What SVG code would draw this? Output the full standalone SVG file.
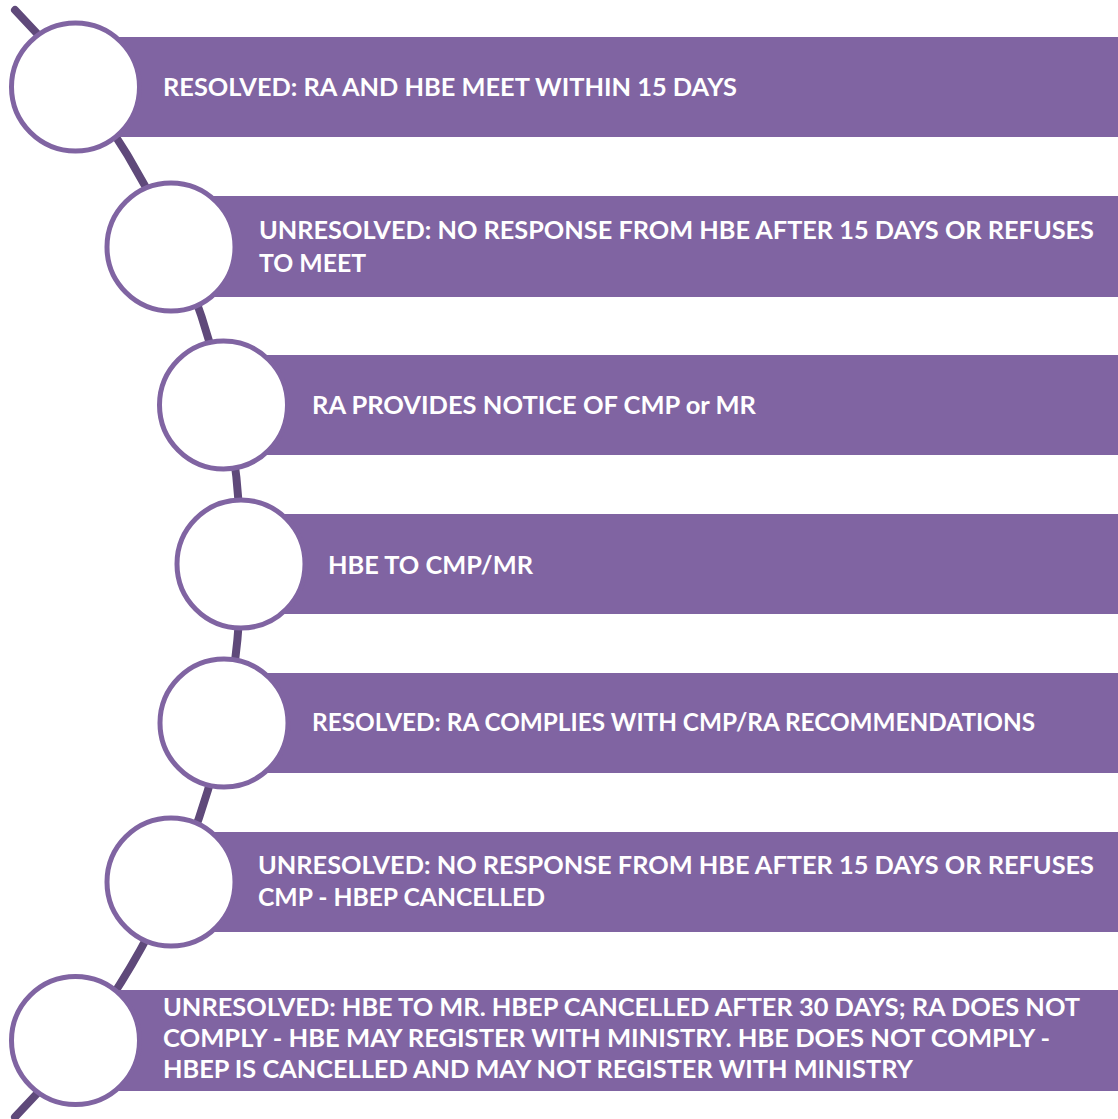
<svg xmlns="http://www.w3.org/2000/svg" width="1118" height="1119" viewBox="0 0 1118 1119">
  <style>
    .bar { fill: #8064A2; }
    .ring { fill: #FFFFFF; stroke: #8064A2; stroke-width: 5; }
    .lbl { fill: #FFFFFF; font-family: "Lato", "Open Sans", "Liberation Sans", sans-serif; font-weight: 700; font-size: 25px; }
    .spine { fill: none; stroke: #5F497A; stroke-width: 8; stroke-linecap: round; }
  </style>
  <rect x="0" y="0" width="1118" height="1119" fill="#FFFFFF"/>
  <g id="connectors">
    <path class="spine" d="M 15 10 A 790.8 790.8 0 0 1 15 1117"/>
  </g>
  <g id="node1">
    <rect class="bar" x="75" y="37" width="1043" height="100"/>
    <circle class="ring" cx="75.5" cy="87" r="64"/>
    <text class="lbl" x="163" y="96" textLength="574" lengthAdjust="spacingAndGlyphs">RESOLVED: RA AND HBE MEET WITHIN 15 DAYS</text>
  </g>
  <g id="node2">
    <rect class="bar" x="171" y="196" width="947" height="101"/>
    <circle class="ring" cx="171" cy="247" r="64"/>
    <text class="lbl" x="259" y="239" textLength="835" lengthAdjust="spacingAndGlyphs">UNRESOLVED: NO RESPONSE FROM HBE AFTER 15 DAYS OR REFUSES</text>
    <text class="lbl" x="259" y="272" textLength="107" lengthAdjust="spacingAndGlyphs">TO MEET</text>
  </g>
  <g id="node3">
    <rect class="bar" x="223" y="355" width="895" height="100"/>
    <circle class="ring" cx="223.5" cy="405" r="64"/>
    <text class="lbl" x="312" y="414" textLength="444" lengthAdjust="spacingAndGlyphs">RA PROVIDES NOTICE OF CMP or MR</text>
  </g>
  <g id="node4">
    <rect class="bar" x="241" y="514" width="877" height="100"/>
    <circle class="ring" cx="241" cy="564" r="64"/>
    <text class="lbl" x="328" y="574" textLength="205" lengthAdjust="spacingAndGlyphs">HBE TO CMP/MR</text>
  </g>
  <g id="node5">
    <rect class="bar" x="224" y="673" width="894" height="100"/>
    <circle class="ring" cx="224" cy="723" r="64"/>
    <text class="lbl" x="312" y="731" textLength="723" lengthAdjust="spacingAndGlyphs">RESOLVED: RA COMPLIES WITH CMP/RA RECOMMENDATIONS</text>
  </g>
  <g id="node6">
    <rect class="bar" x="171" y="832" width="947" height="100"/>
    <circle class="ring" cx="171" cy="882" r="64"/>
    <text class="lbl" x="258" y="874" textLength="836" lengthAdjust="spacingAndGlyphs">UNRESOLVED: NO RESPONSE FROM HBE AFTER 15 DAYS OR REFUSES</text>
    <text class="lbl" x="258" y="906" textLength="287" lengthAdjust="spacingAndGlyphs">CMP - HBEP CANCELLED</text>
  </g>
  <g id="node7">
    <rect class="bar" x="75" y="990" width="1043" height="101"/>
    <circle class="ring" cx="75.5" cy="1040.5" r="64"/>
    <text class="lbl" x="163" y="1016" textLength="917" lengthAdjust="spacingAndGlyphs">UNRESOLVED: HBE TO MR. HBEP CANCELLED AFTER 30 DAYS; RA DOES NOT</text>
    <text class="lbl" x="163" y="1047" textLength="887" lengthAdjust="spacingAndGlyphs">COMPLY - HBE MAY REGISTER WITH MINISTRY. HBE DOES NOT COMPLY -</text>
    <text class="lbl" x="163" y="1078" textLength="750" lengthAdjust="spacingAndGlyphs">HBEP IS CANCELLED AND MAY NOT REGISTER WITH MINISTRY</text>
  </g>
</svg>
